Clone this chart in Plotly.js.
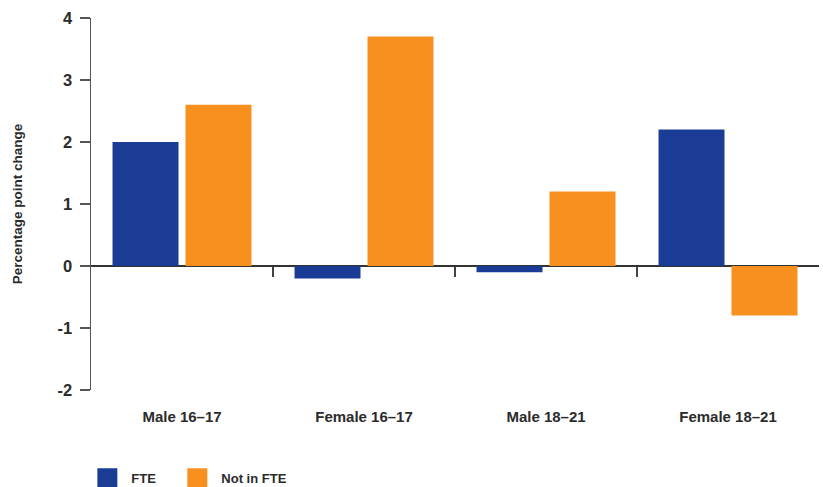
<!DOCTYPE html>
<html>
<head>
<meta charset="utf-8">
<script src="https://cdn.plot.ly/plotly-3.0.1.min.js"></script>
<style>html,body{margin:0;padding:0;background:#fff;}#chart{width:823px;height:487px;}</style>
</head>
<body>
<div id="chart"></div>
<script>
var categories = ["Male 16\u201317", "Female 16\u201317", "Male 18\u201321", "Female 18\u201321"];
var fteValues = [2.0, -0.2, -0.1, 2.2];
var notFteValues = [2.6, 3.7, 1.2, -0.8];
var seriesNames = ["FTE", "Not in FTE"];
var yTickVals = [-2, -1, 0, 1, 2, 3, 4];
var yTickText = ["-2", "-1", "0", "1", "2", "3", "4"];
var yTitle = "Percentage point change";

var BLUE = "#1b3c94";
var ORANGE = "#f7901e";
var TEXT = "#2b2b2b";
var FONT = "Liberation Sans, Arial, sans-serif";

var traces = [
  {type: "bar", x: categories, y: fteValues, name: seriesNames[0], marker: {color: BLUE}, showlegend: false, hoverinfo: "skip"},
  {type: "bar", x: categories, y: notFteValues, name: seriesNames[1], marker: {color: ORANGE}, showlegend: false, hoverinfo: "skip"},
  {type: "scatter", mode: "markers", x: [null], y: [null], xaxis: "x2", name: seriesNames[0], legend: "legend",
   marker: {symbol: "square", size: 16, color: BLUE, line: {color: BLUE, width: 4}}},
  {type: "scatter", mode: "markers", x: [null], y: [null], xaxis: "x2", name: seriesNames[1], legend: "legend2",
   marker: {symbol: "square", size: 16, color: ORANGE, line: {color: ORANGE, width: 4}}}
];

var legendFont = {family: FONT, size: 13, color: TEXT, weight: "bold"};

var layout = {
  width: 823, height: 487,
  margin: {l: 91, r: 4, t: 18, b: 97, autoexpand: false},
  paper_bgcolor: "#fff", plot_bgcolor: "#fff",
  font: {family: FONT, color: TEXT},
  barmode: "group",
  bargap: 0.198,
  bargroupgap: 0.096,
  showlegend: true,
  legend: {orientation: "h", x: -0.0105, xanchor: "left", y: -0.197, yanchor: "top",
           font: legendFont, itemsizing: "trace", itemwidth: 38, bgcolor: "rgba(0,0,0,0)"},
  legend2: {orientation: "h", x: 0.1131, xanchor: "left", y: -0.197, yanchor: "top",
           font: legendFont, itemsizing: "trace", itemwidth: 38, bgcolor: "rgba(0,0,0,0)"},
  xaxis: {
    type: "category", range: [-0.5, 3.5], showgrid: false, zeroline: false, showline: false,
    ticks: "", ticklabelstandoff: 16,
    tickfont: {family: FONT, size: 15, color: TEXT, weight: "bold"},
    fixedrange: true
  },
  xaxis2: {
    overlaying: "x", anchor: "free", position: 2/6, side: "bottom",
    range: [-0.5, 3.5], tickmode: "array", tickvals: [0.5, 1.5, 2.5],
    showticklabels: false, ticks: "outside", ticklen: 10, tickwidth: 1.5, tickcolor: "#444",
    showgrid: false, zeroline: false, showline: false, fixedrange: true
  },
  yaxis: {
    range: [-2, 4], tickmode: "array", tickvals: yTickVals, ticktext: yTickText,
    showgrid: false, zeroline: true, zerolinecolor: "#333", zerolinewidth: 1.5,
    showline: true, linecolor: "#555", linewidth: 1.5,
    ticks: "outside", ticklen: 10, tickwidth: 1.5, tickcolor: "#555",
    ticklabelstandoff: 4,
    tickfont: {family: FONT, size: 16.5, color: TEXT, weight: "bold"},
    title: {text: yTitle, font: {family: FONT, size: 13.5, color: TEXT, weight: "bold"}, standoff: 32},
    fixedrange: true
  }
};

Plotly.newPlot("chart", traces, layout, {staticPlot: true, displayModeBar: false});
</script>
</body>
</html>
